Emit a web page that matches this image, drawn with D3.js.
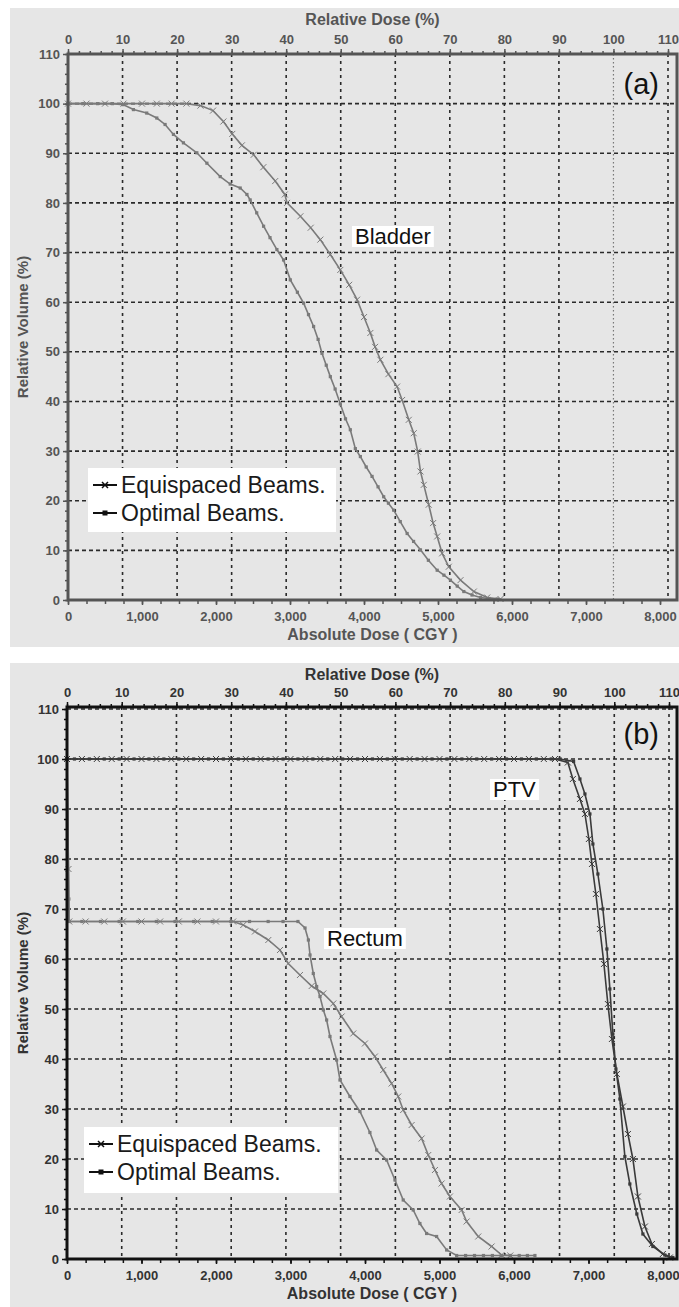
<!DOCTYPE html>
<html>
<head>
<meta charset="utf-8">
<script src="https://cdn.jsdelivr.net/npm/d3@7"></script>
<style>
  body { margin: 0; background: #fff; }
  text { font-family: Arial, "Liberation Sans", sans-serif; }
</style>
</head>
<body>
<svg id="chart" width="679" height="1307"></svg>
<script>
// tick labels
var relTicks = [0, 10, 20, 30, 40, 50, 60, 70, 80, 90, 100, 110];
var absTicks = [0, 1000, 2000, 3000, 4000, 5000, 6000, 7000, 8000];
var volTicks = [0, 10, 20, 30, 40, 50, 60, 70, 80, 90, 100, 110];
var legendNames = ["Equispaced Beams.", "Optimal Beams."];

// [dose cGy, volume %]
var bladderEqui = [[0,100],[250,100],[500,100],[750,100],[1000,100],[1200,100],[1400,100],[1600,100],
  [1790,99.6],[1960,98.6],[2100,96.4],[2220,93.9],[2350,91.6],[2510,89.7],[2640,87.2],[2800,84.4],
  [2930,81.7],[2960,80],[3140,77.3],[3280,75],[3410,72.6],[3545,69.6],[3680,66.5],[3800,63.5],
  [3906,60.5],[4000,57],[4086,53.8],[4150,51],[4221,48.4],[4330,45.5],[4447,43],[4515,40.3],
  [4605,36.3],[4672,33.6],[4726,29.9],[4763,25.9],[4808,23.2],[4875,19.2],[4934,15.5],[4989,12.8],
  [5056,9.4],[5146,6.7],[5304,4.0],[5484,1.7],[5665,0.5],[5845,0.2]];

var bladderOpt = [[0,100],[200,100],[400,100],[600,100],[744,99.8],[884,98.8],[1064,98.1],[1200,97.1],
  [1312,95.8],[1425,93.8],[1560,92.1],[1741,90.1],[1877,88.0],[2057,85.3],[2192,83.8],[2327,83.0],
  [2418,81.7],[2462,80.6],[2550,78],[2643,75.3],[2730,73],[2823,70.6],[2913,68.5],[3004,64.5],
  [3100,62],[3184,59.8],[3250,57.5],[3319,55.1],[3380,52.5],[3432,49.7],[3490,47.3],[3545,45.0],
  [3610,42.5],[3680,39.5],[3750,36.5],[3815,34.3],[3883,30.5],[3951,28.9],[4030,26.8],[4109,24.9],
  [4190,22.8],[4266,20.8],[4330,19.5],[4401,18.1],[4490,15.8],[4583,13.4],[4670,11.8],[4763,10.1],
  [4870,8],[4989,6.0],[5080,5],[5168,4.0],[5260,2.8],[5349,1.7],[5460,1],[5575,0.5],[5690,0.3],[5800,0.2]];

var rectumEqui = [[0,100],[20,78],[30,67.5],[250,67.5],[500,67.5],[750,67.5],[1000,67.5],[1250,67.5],
  [1500,67.5],[1750,67.5],[2000,67.5],[2230,67.5],[2366,66.8],[2523,65.5],[2702,63.8],[2859,61.8],
  [2970,59.1],[3127,56.8],[3284,54.6],[3440,53.1],[3574,51.1],[3686,48.5],[3842,45.1],[3999,43.1],
  [4133,40.5],[4245,37.8],[4357,35.1],[4446,32.5],[4513,29.8],[4626,26.8],[4760,24.1],[4849,20.8],
  [4939,17.8],[5028,15.1],[5140,12.5],[5297,9.8],[5364,7.5],[5520,4.5],[5699,2.5],[5834,0.8],[5950,0.7]];

var rectumOpt = [[0,100],[25,72],[30,67.5],[200,67.5],[450,67.5],[700,67.5],[950,67.5],[1200,67.5],
  [1450,67.5],[1700,67.5],[1950,67.5],[2200,67.5],[2450,67.5],[2700,67.5],[2900,67.5],[3100,67.5],
  [3195,66.2],[3240,63.8],[3262,60.8],[3306,57.1],[3351,54.5],[3396,52.5],[3441,49.8],[3485,47.8],
  [3530,44.5],[3619,39.8],[3664,35.8],[3798,32.5],[3932,29.5],[4066,25.3],[4156,21.8],[4290,19.8],
  [4402,15.8],[4513,11.8],[4647,9.8],[4737,7.1],[4827,5.1],[4961,4.5],[5096,1.8],[5230,0.7],
  [5350,0.7],[5470,0.7],[5590,0.7],[5710,0.7],[5830,0.7],[5950,0.7],[6070,0.7],[6180,0.7],[6281,0.7]];

var ptvEqui = [[0,100],[200,100],[400,100],[600,100],[800,100],[1000,100],[1200,100],[1400,100],
  [1600,100],[1800,100],[2000,100],[2200,100],[2400,100],[2600,100],[2800,100],[3000,100],[3200,100],
  [3400,100],[3600,100],[3800,100],[4000,100],[4200,100],[4400,100],[4600,100],[4800,100],[5000,100],
  [5200,100],[5400,100],[5600,100],[5800,100],[6000,100],[6200,100],[6400,100],[6550,100],
  [6723,99.3],[6790,96],[6885,92],
  [6952,89],[7005,84],[7046,79],[7099,73],[7153,66],[7207,59],[7260,51],[7314,44],[7381,37],
  [7462,30.5],[7529,25],[7596,20],[7663,12.5],[7757,6.5],[7851,3],[7998,1.0],[8092,0.3]];

var ptvOpt = [[0,100],[100,100],[300,100],[500,100],[700,100],[900,100],[1100,100],[1300,100],
  [1500,100],[1700,100],[1900,100],[2100,100],[2300,100],[2500,100],[2700,100],[2900,100],[3100,100],
  [3300,100],[3500,100],[3700,100],[3900,100],[4100,100],[4300,100],[4500,100],[4700,100],[4900,100],
  [5100,100],[5300,100],[5500,100],[5700,100],[5900,100],[6100,100],[6300,100],[6500,100],[6620,100],
  [6800,99.5],[6885,96],
  [6952,93],[7019,89],[7059,83],[7126,77],[7193,70],[7247,62],[7287,54],[7327,45],[7368,38],
  [7421,32],[7488,20.5],[7555,15],[7649,9],[7730,5],[7864,2.5],[8025,0.8],[8133,0.3]];

var svg = d3.select("#chart");

function drawPanel(p) {
  var g = svg.append("g");
  g.append("rect").attr("x", 10).attr("y", p.bgTop)
    .attr("width", 669).attr("height", p.bgBottom - p.bgTop).attr("fill", "#e6e6e6");

  var x = d3.scaleLinear().domain([0, 8000]).range([p.left, p.absRight]);
  var xr = d3.scaleLinear().domain([0, 110]).range([p.left, p.relRight]);
  var y = d3.scaleLinear().domain([0, 110]).range([p.bottom, p.top]);

  // grid
  g.selectAll(".hgrid").data(volTicks.slice(1)).enter().append("line")
    .attr("x1", p.left).attr("x2", p.right)
    .attr("y1", d => y(d)).attr("y2", d => y(d))
    .attr("stroke", "#2a2a2a").attr("stroke-width", 1.6).attr("stroke-dasharray", "4,3");
  g.selectAll(".vgrid").data(relTicks.slice(1)).enter().append("line")
    .attr("x1", d => xr(d)).attr("x2", d => xr(d))
    .attr("y1", p.frameTop).attr("y2", p.bottom)
    .attr("stroke", d => (d == 100 && p.lightHundred) ? "#777" : "#2a2a2a")
    .attr("stroke-width", d => (d == 100 && p.lightHundred) ? 1.2 : 1.6)
    .attr("stroke-dasharray", d => (d == 100 && p.lightHundred) ? "1.5,2.5" : "3,4");

  // curves
  var line = d3.line().x(d => x(d[0])).y(d => y(d[1]));
  p.series.forEach(function (s) {
    g.append("path").datum(s.data).attr("d", line)
      .attr("fill", "none").attr("stroke", s.color).attr("stroke-width", 1.6);
    if (s.kind == "x") {
      g.selectAll(null).data(s.data).enter().append("path")
        .attr("d", d => "M" + (x(d[0]) - 3) + "," + (y(d[1]) - 3) + "l6,6m0,-6l-6,6")
        .attr("stroke", s.color).attr("stroke-width", 1);
    } else {
      g.selectAll(null).data(s.data).enter().append("rect")
        .attr("x", d => x(d[0]) - 1.6).attr("y", d => y(d[1]) - 1.6)
        .attr("width", 3.2).attr("height", 3.2).attr("fill", s.color);
    }
  });

  // frame
  g.append("rect").attr("x", p.left).attr("y", p.frameTop)
    .attr("width", p.right - p.left).attr("height", p.bottom - p.frameTop)
    .attr("fill", "none").attr("stroke", p.frame).attr("stroke-width", 3);

  // axes
  function styleAxis(a) {
    a.select(".domain").remove();
    a.selectAll("line").attr("stroke", p.frame).attr("stroke-width", 1.5);
    a.selectAll("text").attr("fill", p.text).style("font-size", "13px").style("font-weight", "bold")
      .style("font-family", "Arial, 'Liberation Sans', sans-serif");
  }
  g.append("g").attr("transform", "translate(0," + p.frameTop + ")")
    .call(d3.axisTop(xr).tickValues(d3.range(0, 111, 2)).tickSize(3).tickFormat(""))
    .call(styleAxis);
  g.append("g").attr("transform", "translate(0," + p.frameTop + ")")
    .call(d3.axisTop(xr).tickValues(relTicks).tickSize(5).tickPadding(5))
    .call(styleAxis);
  g.append("g").attr("transform", "translate(" + p.left + ",0)")
    .call(d3.axisLeft(y).tickValues(d3.range(0, 111, 2)).tickSize(3).tickFormat(""))
    .call(styleAxis);
  g.append("g").attr("transform", "translate(" + p.left + ",0)")
    .call(d3.axisLeft(y).tickValues(volTicks).tickSize(5).tickPadding(3))
    .call(styleAxis);
  g.append("g").attr("transform", "translate(0," + p.bottom + ")")
    .call(d3.axisBottom(x).tickValues(d3.range(0, 8001, 250)).tickSize(4).tickFormat(""))
    .call(styleAxis);
  g.append("g").attr("transform", "translate(0," + p.bottom + ")")
    .call(d3.axisBottom(x).tickValues(absTicks).tickSize(5).tickPadding(p.botPad).tickFormat(d3.format(",")))
    .call(styleAxis);

  // axis titles
  var cx = (p.left + p.right) / 2;
  g.append("text").attr("x", cx).attr("y", p.topTitleY).attr("text-anchor", "middle")
    .attr("fill", p.text).style("font-size", "16px").style("font-weight", "bold").text("Relative Dose (%)");
  g.append("text").attr("x", cx).attr("y", p.botTitleY).attr("text-anchor", "middle")
    .attr("fill", p.text).style("font-size", "16px").style("font-weight", "bold").text("Absolute Dose ( CGY )");
  g.append("text").attr("transform", "translate(28," + ((p.frameTop + p.bottom) / 2) + ") rotate(-90)")
    .attr("text-anchor", "middle").attr("fill", p.text)
    .style("font-size", "15px").style("font-weight", "bold").text("Relative Volume (%)");

  // panel letter
  g.append("text").attr("x", p.right - 18).attr("y", p.letterY).attr("text-anchor", "end")
    .attr("fill", "#111").style("font-size", "29px").text(p.letter);

  // region labels
  p.labels.forEach(function (l) {
    var t = g.append("text").attr("x", l.x).attr("y", l.y).attr("fill", "#111")
      .style("font-size", "22px").text(l.text);
    var b = t.node().getBBox();
    g.insert("rect", function () { return t.node(); })
      .attr("x", b.x - 3).attr("y", b.y + 2).attr("width", b.width + 6).attr("height", b.height - 4)
      .attr("fill", "#fff");
  });

  // legend
  var lg = p.legend;
  g.append("rect").attr("x", lg.x).attr("y", lg.y).attr("width", lg.w).attr("height", lg.h).attr("fill", "#fff");
  legendNames.forEach(function (name, i) {
    var by = lg.y + 25 + i * 28;
    var my = by - 8;
    g.append("line").attr("x1", lg.x + 5).attr("x2", lg.x + 29).attr("y1", my).attr("y2", my)
      .attr("stroke", "#111").attr("stroke-width", 2);
    if (i == 0) {
      g.append("path").attr("d", "M" + (lg.x + 14) + "," + (my - 3) + "l6,6m0,-6l-6,6")
        .attr("stroke", "#111").attr("stroke-width", 1.5);
    } else {
      g.append("rect").attr("x", lg.x + 14.5).attr("y", my - 2.5).attr("width", 5).attr("height", 5).attr("fill", "#111");
    }
    g.append("text").attr("x", lg.x + 33).attr("y", by).attr("fill", "#1a1a1a")
      .style("font-size", "23px").text(name);
  });
}

drawPanel({
  bgTop: 8, bgBottom: 647, left: 68, right: 677, top: 54, frameTop: 54, bottom: 600,
  relRight: 668, absRight: 660, text: "#555", frame: "#555", botPad: 7,
  topTitleY: 25, botTitleY: 640, letter: "(a)", letterY: 94, lightHundred: true,
  series: [
    { data: bladderEqui, color: "#7a7a7a", kind: "x" },
    { data: bladderOpt, color: "#7a7a7a", kind: "dot" }
  ],
  labels: [{ text: "Bladder", x: 355, y: 244 }],
  legend: { x: 88, y: 468, w: 248, h: 64 }
});

drawPanel({
  bgTop: 663, bgBottom: 1307, left: 67, right: 677, top: 709, frameTop: 707, bottom: 1259,
  relRight: 669, absRight: 663, text: "#333", frame: "#111", botPad: 7,
  topTitleY: 680, botTitleY: 1299, letter: "(b)", letterY: 744, lightHundred: false,
  series: [
    { data: rectumEqui, color: "#7a7a7a", kind: "x" },
    { data: rectumOpt, color: "#7a7a7a", kind: "dot" },
    { data: ptvEqui, color: "#3a3a3a", kind: "x" },
    { data: ptvOpt, color: "#3a3a3a", kind: "dot" }
  ],
  labels: [{ text: "Rectum", x: 327, y: 946 }, { text: "PTV", x: 493, y: 797 }],
  legend: { x: 84, y: 1127, w: 254, h: 66 }
});
</script>
</body>
</html>
